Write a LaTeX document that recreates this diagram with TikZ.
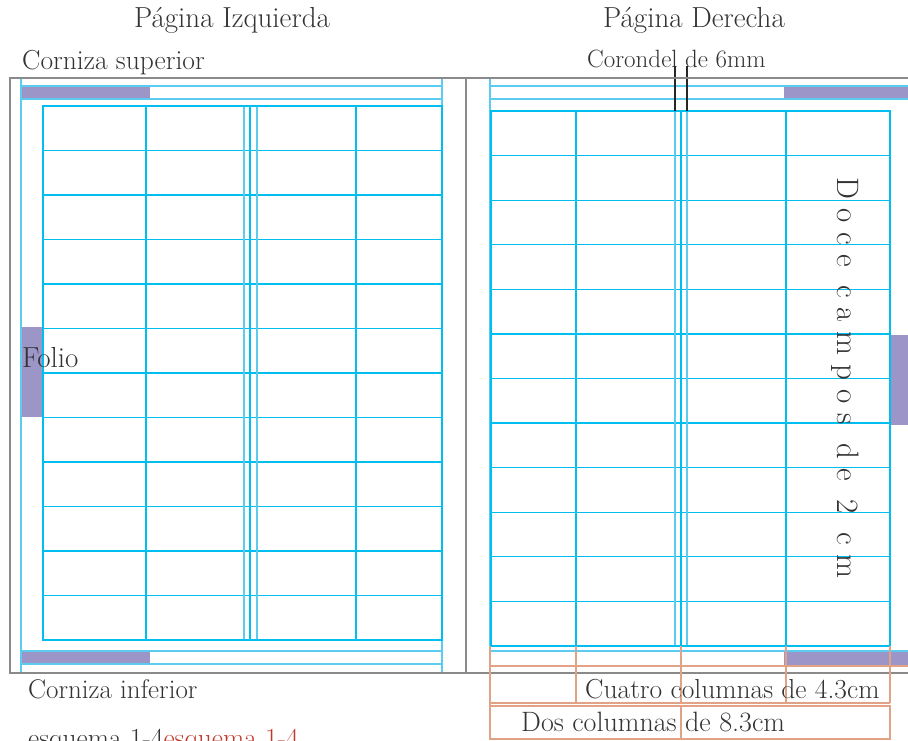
\documentclass[tikz,border=0pt]{standalone}
\usepackage{xcolor}
\usepackage{tikz}
\usetikzlibrary{positioning}

\definecolor{marco}{HTML}{8A8A8A}
\definecolor{guia}{HTML}{5CCBF0}
\definecolor{reja}{HTML}{00BEF0}
\definecolor{folio}{HTML}{9C95C8}
\definecolor{medida}{HTML}{E2A285}
\definecolor{rojo}{HTML}{C0392B}
\definecolor{texto}{HTML}{333333}

\tikzset{
	marcoline/.style={draw=marco, line width=2.8pt},
	guialine/.style={draw=guia, line width=1.3pt},
	rejaline/.style={draw=reja, line width=1.3pt},
	rejabox/.style={draw=reja, line width=2.6pt},
	medidaline/.style={draw=medida, line width=2pt},
	folioblock/.style={fill=folio},
	etiqueta/.style={inner sep=0pt, text=texto},
}

\begin{document}
\begin{tikzpicture}[x=1pt, y=-1pt]
		
		\useasboundingbox (0,0) rectangle (908,740);
		
		%//cornizas y folios
		\fill[folioblock] (21,86) rectangle (150,99);
		\fill[folioblock] (21,651) rectangle (150,664);
		\fill[folioblock] (21,327) rectangle (43,417);
		\fill[folioblock] (784,86) rectangle (908,99);
		\fill[folioblock] (784,651) rectangle (908,666);
		\fill[folioblock] (890,335) rectangle (908,425);
		
		%//guias de pagina
		\foreach \x in {21, 442, 490}
		\draw[guialine] (\x,78) -- (\x,673);
		\foreach \y in {86, 99, 651, 664}
		\draw[guialine] (21,\y) -- (442,\y);
		\foreach \y in {86, 99, 651}
		\draw[guialine] (490,\y) -- (908,\y);
		
		%//pagina izquierda
		\foreach \y in {1,...,11}
		\draw[rejaline] (43, 106+44.5*\y) -- (442, 106+44.5*\y);
		\foreach \x in {146, 250, 356}
		\draw[rejaline] (\x,106) -- (\x,640);
		\foreach \x in {244, 257}
		\draw[guialine] (\x,106) -- (\x,640);
		\draw[rejabox] (43,106) rectangle (442,640);
		
		%//pagina derecha
		\foreach \y in {1,...,11}
		\draw[rejaline] (491, 111+44.58*\y) -- (890, 111+44.58*\y);
		\foreach \x in {576, 681, 786}
		\draw[rejaline] (\x,111) -- (\x,646);
		\foreach \x in {675, 687}
		\draw[guialine] (\x,111) -- (\x,646);
		\draw[rejabox] (491,111) rectangle (890,646);
		
		%//corondel
		\foreach \x in {675, 687}
		\draw[line width=2.4pt, black!85] (\x,66) -- (\x,111);
		
		%//marco gris
		\draw[marcoline] (908,78) -- (10,78) -- (10,673) -- (908,673);
		\draw[marcoline] (466,78) -- (466,673);
		
		%//medidas de columnas
		\foreach \x in {576, 681, 786, 890}
		\draw[medidaline] (\x,646) -- (\x,703);
		\draw[medidaline] (490,646) -- (490,740);
		\draw[medidaline] (490,666) -- (908,666);
		\draw[medidaline] (490,703) -- (890,703);
		\draw[medidaline] (490,706) rectangle (890,739);
		\draw[medidaline] (681,706) -- (681,739);
		
		%//textos
		\node[etiqueta, font=\fontsize{29}{32}\selectfont] (izq) at (232,20) {Página Izquierda};
		\node[etiqueta, font=\fontsize{29}{32}\selectfont] (der) at (694,20) {Página Derecha};
		\node[etiqueta, anchor=west, font=\fontsize{27.5}{30}\selectfont] (csup) at (22,63) {Corniza superior};
		\node[etiqueta, anchor=west, font=\fontsize{25}{28}\selectfont] (coro) at (587,59) {Corondel de 6mm};
		\node[etiqueta, anchor=west, font=\fontsize{29}{32}\selectfont] (fol) at (22,358) {Folio};
		\node[etiqueta, rotate=-90, font=\fontsize{31}{34}\selectfont] (doce) at (845,378) {D o c e \ c a m p o s \ d e \ 2 \ c m};
		\node[etiqueta, anchor=west, font=\fontsize{27}{30}\selectfont] (cinf) at (28,689) {Corniza inferior};
		\node[etiqueta, anchor=base west, font=\fontsize{27.5}{30}\selectfont] (esq) at (28,747) {esquema 1-4\textcolor{rojo}{esquema 1-4}};
		\node[etiqueta, anchor=west, font=\fontsize{27.5}{30}\selectfont] (cuatro) at (585,689) {Cuatro columnas de 4.3cm};
		\node[etiqueta, anchor=west, font=\fontsize{28}{31}\selectfont] (dos) at (521,722) {Dos columnas de 8.3cm};
		
		\end{tikzpicture}
\end{document}
